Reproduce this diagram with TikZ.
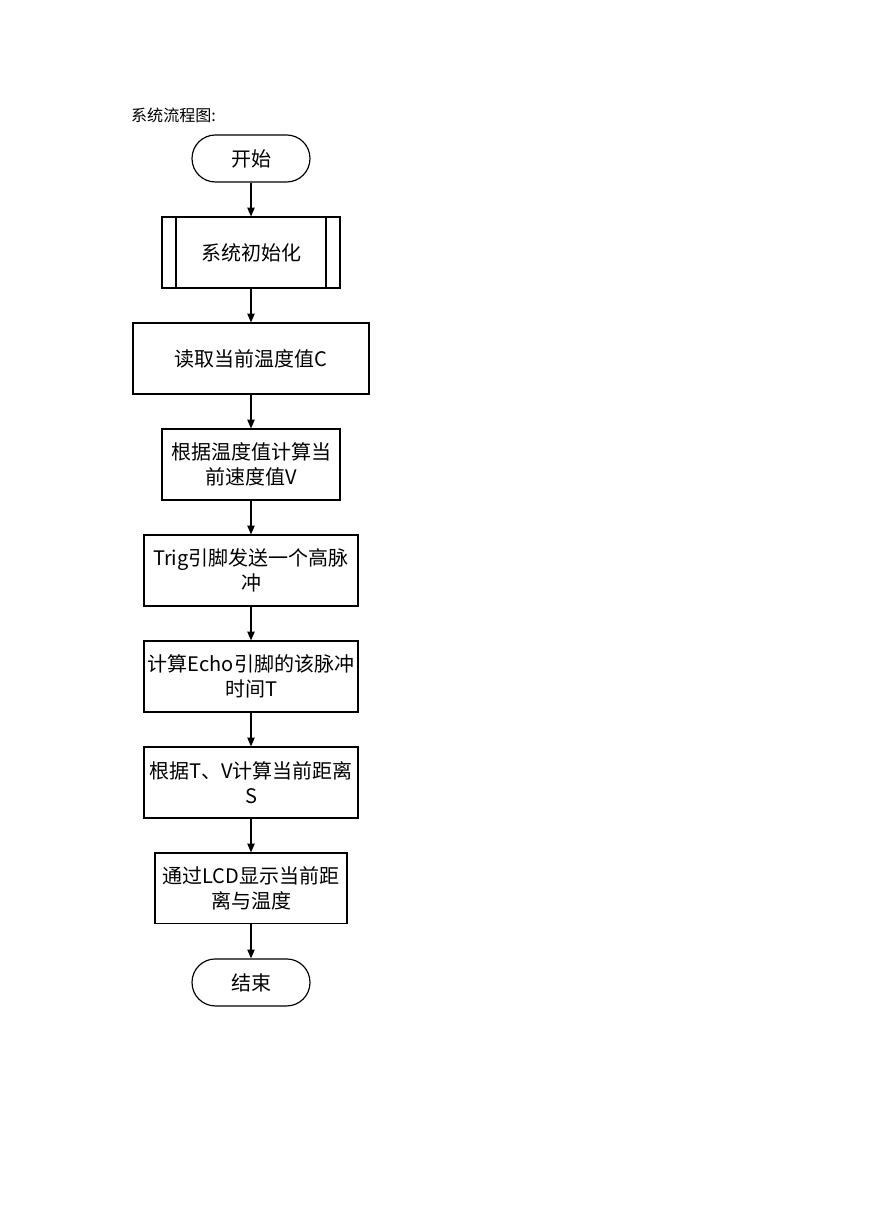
\documentclass[tikz,border=0pt]{standalone}
\usepackage{fontspec}
\newfontfamily\cjk{Noto Sans CJK SC}
\usetikzlibrary{positioning,chains,arrows.meta}

\begin{document}
\begin{tikzpicture}
        [x=0.685pt,y=-0.685pt,
          stepbox/.style={
            draw,
            line width=0.8pt,
            align=center,
            inner xsep=2pt,
            minimum height=48.6pt,
            font=\cjk\fontsize{13.7}{17}\selectfont,
            on chain},
          term/.style={
            stepbox,
            rounded corners=16pt,
            minimum width=80.8pt,
            minimum height=32.2pt},
          arr/.style={-{Triangle[length=6pt,width=5pt]}, line width=0.8pt},
          start chain=going below,
          node distance = 23.2pt]
        \useasboundingbox (0,0) rectangle (869,1228);
        \node[anchor=west, font=\cjk\fontsize{11}{13}\selectfont] (title) at (126,115) {系统流程图:};

        \node[term] (start) at (251,158.5) {开始};
        \node[stepbox, minimum width=122pt] (init) {系统初始化};
        \node[stepbox, minimum width=161.7pt] (read) {读取当前温度值C};
        \node[stepbox, minimum width=122pt] (speed) {根据温度值计算当\\前速度值V};
        \node[stepbox, minimum width=146.6pt] (trig) {Trig引脚发送一个高脉\\冲};
        \node[stepbox, minimum width=146.6pt] (echo) {计算Echo引脚的该脉冲\\时间T};
        \node[stepbox, minimum width=146.6pt] (dist) {根据T、V计算当前距离\\S};
        \node[stepbox, minimum width=131.5pt] (lcd) {通过LCD显示当前距\\离与温度};
        \node[term] (stop) {结束};

        % side bars of the subprocess box
        \draw[line width=0.8pt] ([xshift=10pt]init.north west) -- ([xshift=10pt]init.south west);
        \draw[line width=0.8pt] ([xshift=-10pt]init.north east) -- ([xshift=-10pt]init.south east);

        \foreach \a/\b in {start/init, init/read, read/speed, speed/trig,
                           trig/echo, echo/dist, dist/lcd, lcd/stop}
          \draw[arr] (\a) -- (\b);
      \end{tikzpicture}
\end{document}
